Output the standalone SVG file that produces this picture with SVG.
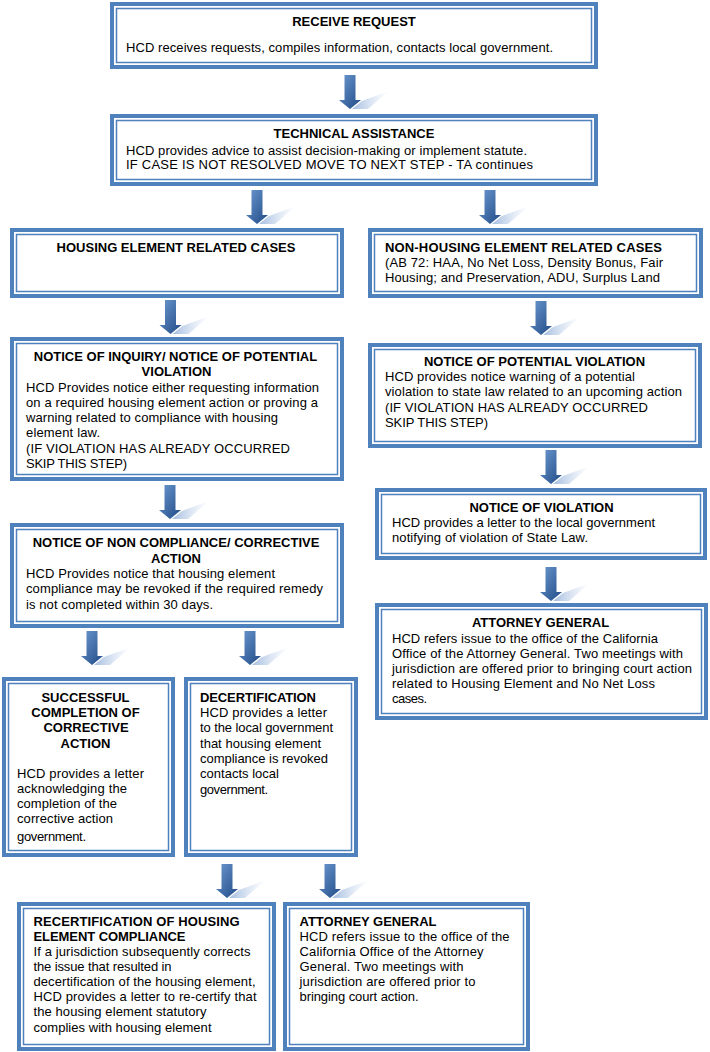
<svg xmlns="http://www.w3.org/2000/svg" xmlns:xlink="http://www.w3.org/1999/xlink" width="710" height="1052" viewBox="0 0 710 1052">
<style>
.ob{fill:#fff;stroke:#4F81BD;stroke-width:4}
.ib{fill:none;stroke:#4F81BD;stroke-width:1.5}
text{font-family:"Liberation Sans",Arial,sans-serif;font-size:13px;fill:#000}
.t{font-weight:bold}
.c{text-anchor:middle}
</style>
<defs>
<linearGradient id="ag" x1="0" y1="0" x2="1" y2="1">
<stop offset="0" stop-color="#6d99d0"/>
<stop offset="1" stop-color="#1f4a86"/>
</linearGradient>
<linearGradient id="sg" x1="0" y1="0" x2="1" y2="0">
<stop offset="0" stop-color="#a3bcdf"/>
<stop offset="1" stop-color="#c9d8ee" stop-opacity="0"/>
</linearGradient>
<g id="arrow">
<polygon points="2,34 12,26 39,16 18,34" fill="url(#sg)"/>
<polygon points="-5.5,0 5.5,0 5.5,25 11,25 0,34 -11,25 -5.5,25" fill="url(#ag)"/>
</g>
</defs>
<rect width="710" height="1052" fill="#fff"/>
<g id="connectors">
<use xlink:href="#arrow" x="350" y="75"/>
<use xlink:href="#arrow" x="257" y="190"/>
<use xlink:href="#arrow" x="490" y="190"/>
<use xlink:href="#arrow" x="170.5" y="300"/>
<use xlink:href="#arrow" x="541" y="301"/>
<use xlink:href="#arrow" x="170" y="485"/>
<use xlink:href="#arrow" x="551" y="450"/>
<use xlink:href="#arrow" x="551" y="567"/>
<use xlink:href="#arrow" x="92" y="631"/>
<use xlink:href="#arrow" x="250" y="631"/>
<use xlink:href="#arrow" x="227" y="864"/>
<use xlink:href="#arrow" x="330" y="864"/>
</g>
<g id="receive-request">
<rect class="ob" x="112" y="4" width="484" height="63"/>
<rect class="ib" x="116.5" y="8.5" width="475" height="54"/>
<text class="t c" x="354" y="26">RECEIVE  REQUEST</text>
<text x="126" y="52" textLength="427" lengthAdjust="spacing">HCD receives requests, compiles information, contacts local government.</text>
</g>
<g id="technical-assistance">
<rect class="ob" x="112" y="116" width="484" height="68"/>
<rect class="ib" x="116.5" y="120.5" width="475" height="59"/>
<text class="t c" x="354" y="138">TECHNICAL  ASSISTANCE</text>
<text x="126" y="154.5" textLength="401" lengthAdjust="spacing">HCD provides advice to assist decision-making or implement statute.</text>
<text x="126" y="168.5" textLength="407" lengthAdjust="spacing">IF CASE IS NOT RESOLVED MOVE TO NEXT STEP - TA continues</text>
</g>
<g id="housing-element-cases">
<rect class="ob" x="12" y="230" width="330" height="66"/>
<rect class="ib" x="16.5" y="234.5" width="321" height="57"/>
<text class="t c" x="176" y="252">HOUSING  ELEMENT  RELATED  CASES</text>
</g>
<g id="non-housing-element-cases">
<rect class="ob" x="370" y="230" width="331" height="66"/>
<rect class="ib" x="374.5" y="234.5" width="322" height="57"/>
<text class="t" x="385" y="251.5" textLength="277" lengthAdjust="spacing">NON-HOUSING ELEMENT RELATED CASES</text>
<text x="385" y="266.5" textLength="278" lengthAdjust="spacing">(AB 72: HAA, No Net Loss, Density Bonus, Fair</text>
<text x="385" y="282" textLength="275" lengthAdjust="spacing">Housing; and Preservation,  ADU, Surplus Land</text>
</g>
<g id="notice-of-inquiry">
<rect class="ob" x="12" y="339" width="330" height="140"/>
<rect class="ib" x="16.5" y="343.5" width="321" height="131"/>
<text class="t c" x="175.5" y="360.5">NOTICE  OF INQUIRY/  NOTICE  OF POTENTIAL</text>
<text class="t c" x="176.5" y="376">VIOLATION</text>
<text x="26" y="391.5" textLength="293" lengthAdjust="spacing">HCD Provides notice either requesting information</text>
<text x="26" y="406.7" textLength="292" lengthAdjust="spacing">on a required housing element action or proving a</text>
<text x="26" y="422" textLength="252" lengthAdjust="spacing">warning related to compliance with housing</text>
<text x="26" y="437.3" textLength="74" lengthAdjust="spacing">element law.</text>
<text x="26" y="452.5" textLength="264" lengthAdjust="spacing">(IF VIOLATION  HAS ALREADY OCCURRED</text>
<text x="26" y="467.5" textLength="101" lengthAdjust="spacing">SKIP THIS STEP)</text>
</g>
<g id="notice-of-non-compliance">
<rect class="ob" x="12" y="525" width="330" height="101"/>
<rect class="ib" x="16.5" y="529.5" width="321" height="92"/>
<text class="t c" x="176" y="547.3">NOTICE  OF NON  COMPLIANCE/  CORRECTIVE</text>
<text class="t c" x="176" y="562.7">ACTION</text>
<text x="26" y="577.7" textLength="249" lengthAdjust="spacing">HCD Provides notice that housing element</text>
<text x="26" y="593.3" textLength="297" lengthAdjust="spacing">compliance may be revoked if the required remedy</text>
<text x="26" y="609.3" textLength="187" lengthAdjust="spacing">is not completed within 30 days.</text>
</g>
<g id="successful-completion">
<rect class="ob" x="4" y="679" width="169" height="176"/>
<rect class="ib" x="8.5" y="683.5" width="160" height="167"/>
<text class="t c" x="85.5" y="701.7">SUCCESSFUL</text>
<text class="t c" x="85.5" y="716.7">COMPLETION  OF</text>
<text class="t c" x="86" y="732.3">CORRECTIVE</text>
<text class="t c" x="85.5" y="747.7">ACTION</text>
<text x="17" y="777.7" textLength="127" lengthAdjust="spacing">HCD provides  a letter</text>
<text x="17" y="793.3" textLength="110" lengthAdjust="spacing">acknowledging the</text>
<text x="17" y="808.3" textLength="100" lengthAdjust="spacing">completion of the</text>
<text x="17" y="823.3" textLength="96" lengthAdjust="spacing">corrective action</text>
<text x="17" y="840.7" textLength="69" lengthAdjust="spacing">government.</text>
</g>
<g id="decertification">
<rect class="ob" x="186" y="679" width="170" height="176"/>
<rect class="ib" x="190.5" y="683.5" width="161" height="167"/>
<text class="t" x="200" y="701.7" textLength="116" lengthAdjust="spacing">DECERTIFICATION</text>
<text x="200" y="716.7" textLength="127" lengthAdjust="spacing">HCD provides  a letter</text>
<text x="200" y="731.7" textLength="133" lengthAdjust="spacing">to the local government</text>
<text x="200" y="747.7" textLength="121" lengthAdjust="spacing">that housing element</text>
<text x="200" y="762.7" textLength="128" lengthAdjust="spacing">compliance is revoked</text>
<text x="200" y="777.7" textLength="79" lengthAdjust="spacing">contacts local</text>
<text x="200" y="794" textLength="68" lengthAdjust="spacing">government.</text>
</g>
<g id="notice-of-potential-violation">
<rect class="ob" x="370" y="345" width="330" height="101"/>
<rect class="ib" x="374.5" y="349.5" width="321" height="92"/>
<text class="t c" x="534.5" y="366">NOTICE  OF POTENTIAL  VIOLATION</text>
<text x="385" y="380.7" textLength="250" lengthAdjust="spacing">HCD provides  notice warning of a potential</text>
<text x="385" y="396" textLength="297" lengthAdjust="spacing">violation to state law related to an upcoming action</text>
<text x="385" y="411.7" textLength="263" lengthAdjust="spacing">(IF VIOLATION  HAS ALREADY OCCURRED</text>
<text x="385" y="427.3" textLength="103" lengthAdjust="spacing">SKIP THIS  STEP)</text>
</g>
<g id="notice-of-violation">
<rect class="ob" x="377" y="490" width="328" height="68"/>
<rect class="ib" x="381.5" y="494.5" width="319" height="59"/>
<text class="t c" x="541.5" y="511.7">NOTICE  OF VIOLATION</text>
<text x="392" y="526.7" textLength="263" lengthAdjust="spacing">HCD provides  a letter to the local government</text>
<text x="392" y="542.3" textLength="196" lengthAdjust="spacing">notifying of violation  of State Law.</text>
</g>
<g id="attorney-general-right">
<rect class="ob" x="377" y="605" width="329" height="113"/>
<rect class="ib" x="381.5" y="609.5" width="320" height="104"/>
<text class="t c" x="540.5" y="627.3">ATTORNEY  GENERAL</text>
<text x="392" y="642.5" textLength="266" lengthAdjust="spacing">HCD refers issue to the office of the California</text>
<text x="392" y="657.7" textLength="291" lengthAdjust="spacing">Office of the Attorney General. Two meetings with</text>
<text x="392" y="673" textLength="300" lengthAdjust="spacing">jurisdiction are offered prior to bringing court action</text>
<text x="392" y="687.7" textLength="263" lengthAdjust="spacing">related to Housing Element and No Net Loss</text>
<text x="392" y="703" textLength="35" lengthAdjust="spacing">cases.</text>
</g>
<g id="recertification">
<rect class="ob" x="19" y="904" width="255" height="145"/>
<rect class="ib" x="23.5" y="908.5" width="246" height="136"/>
<text class="t" x="33.5" y="925.7" textLength="206" lengthAdjust="spacing">RECERTIFICATION  OF HOUSING</text>
<text class="t" x="33.5" y="940.7" textLength="152" lengthAdjust="spacing">ELEMENT  COMPLIANCE</text>
<text x="33.5" y="956" textLength="217" lengthAdjust="spacing">If a jurisdiction subsequently corrects</text>
<text x="33.5" y="971" textLength="138" lengthAdjust="spacing">the issue that resulted in</text>
<text x="33.5" y="986" textLength="222" lengthAdjust="spacing">decertification of the housing element,</text>
<text x="33.5" y="1001" textLength="223" lengthAdjust="spacing">HCD provides  a letter to re-certify that</text>
<text x="33.5" y="1016" textLength="173" lengthAdjust="spacing">the housing element statutory</text>
<text x="33.5" y="1031.7" textLength="178" lengthAdjust="spacing">complies with housing element</text>
</g>
<g id="attorney-general-bottom">
<rect class="ob" x="285" y="904" width="243" height="145"/>
<rect class="ib" x="289.5" y="908.5" width="234" height="136"/>
<text class="t" x="299.5" y="925.7" textLength="137" lengthAdjust="spacing">ATTORNEY  GENERAL</text>
<text x="299.5" y="940.7" textLength="210" lengthAdjust="spacing">HCD refers issue to the office of the</text>
<text x="299.5" y="956" textLength="184" lengthAdjust="spacing">California  Office of the Attorney</text>
<text x="299.5" y="971" textLength="164" lengthAdjust="spacing">General. Two meetings with</text>
<text x="299.5" y="986" textLength="176" lengthAdjust="spacing">jurisdiction are offered prior to</text>
<text x="299.5" y="1001" textLength="119" lengthAdjust="spacing">bringing court action.</text>
</g>
</svg>
